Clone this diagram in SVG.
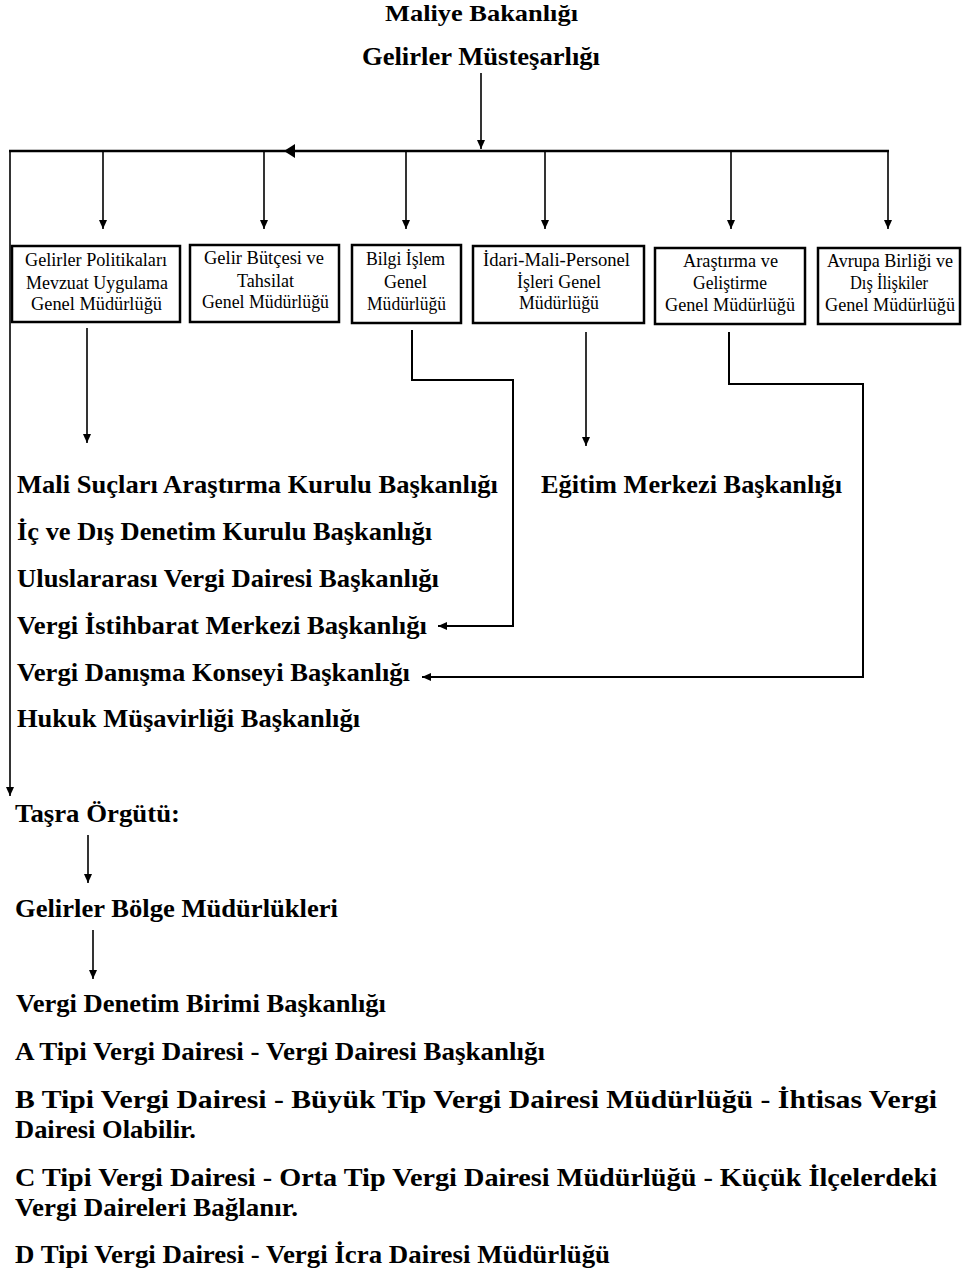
<svg xmlns="http://www.w3.org/2000/svg" width="971" height="1272" viewBox="0 0 971 1272">
<defs>
<style>
.bg{fill:#fff}
.box{fill:#fff;stroke:#000;stroke-width:2.5}
.bt{font-family:"Liberation Serif","Times New Roman",serif;font-size:19px;fill:#000}
.hb{font-family:"Liberation Serif","Times New Roman",serif;font-size:26px;font-weight:bold;fill:#000}
.tb{font-family:"Liberation Serif","Times New Roman",serif;font-size:25px;font-weight:bold;fill:#000}
.tt{font-family:"Liberation Serif","Times New Roman",serif;font-size:23px;font-weight:bold;fill:#000}
.ln{fill:none;stroke:#000;stroke-width:1.6}
.thick{fill:none;stroke:#000;stroke-width:2.6}
.el{fill:none;stroke:#000;stroke-width:2}
</style>
<marker id="ah" markerWidth="10" markerHeight="10" refX="9" refY="5" orient="auto" markerUnits="userSpaceOnUse">
<path d="M0,1 L9,5 L0,9 Z" fill="#000"/>
</marker>
</defs>
<rect class="bg" x="0" y="0" width="971" height="1272"/>

<g id="title">
<text class="tt" x="385" y="21" textLength="193" lengthAdjust="spacingAndGlyphs">Maliye Bakanlığı</text>
<text class="tb" x="362" y="65" textLength="238" lengthAdjust="spacingAndGlyphs">Gelirler Müsteşarlığı</text>
</g>

<g id="connectors">
<line class="ln" x1="481" y1="73" x2="481" y2="149" marker-end="url(#ah)"/>
<line class="thick" x1="9" y1="151" x2="889" y2="151"/>
<path d="M284,151 L295,144 L295,158 Z" fill="#000"/>
<line class="ln" x1="10" y1="150" x2="10" y2="796" marker-end="url(#ah)"/>
<line class="ln" x1="103" y1="151" x2="103" y2="229" marker-end="url(#ah)"/>
<line class="ln" x1="264" y1="151" x2="264" y2="229" marker-end="url(#ah)"/>
<line class="ln" x1="406" y1="151" x2="406" y2="229" marker-end="url(#ah)"/>
<line class="ln" x1="545" y1="151" x2="545" y2="229" marker-end="url(#ah)"/>
<line class="ln" x1="731" y1="151" x2="731" y2="229" marker-end="url(#ah)"/>
<line class="ln" x1="888" y1="151" x2="888" y2="229" marker-end="url(#ah)"/>
<line class="ln" x1="87" y1="328" x2="87" y2="443" marker-end="url(#ah)"/>
<line class="ln" x1="586" y1="332" x2="586" y2="446" marker-end="url(#ah)"/>
<path class="el" d="M412,330 V380 H513 V626 H438" marker-end="url(#ah)"/>
<path class="el" d="M729,332 V384 H863 V677 H422" marker-end="url(#ah)"/>
<line class="ln" x1="88" y1="835" x2="88" y2="883" marker-end="url(#ah)"/>
<line class="ln" x1="93" y1="930" x2="93" y2="979" marker-end="url(#ah)"/>
</g>

<g id="n1">
<rect class="box" x="12" y="246" width="168" height="76"/>
<text class="bt" x="25" y="266" textLength="142" lengthAdjust="spacingAndGlyphs">Gelirler Politikaları</text>
<text class="bt" x="26" y="289" textLength="142" lengthAdjust="spacingAndGlyphs">Mevzuat Uygulama</text>
<text class="bt" x="31" y="310" textLength="131" lengthAdjust="spacingAndGlyphs">Genel Müdürlüğü</text>
</g>
<g id="n2">
<rect class="box" x="190" y="245" width="149" height="77"/>
<text class="bt" x="204" y="264" textLength="120" lengthAdjust="spacingAndGlyphs">Gelir Bütçesi ve</text>
<text class="bt" x="237" y="287" textLength="57" lengthAdjust="spacingAndGlyphs">Tahsilat</text>
<text class="bt" x="202" y="308" textLength="127" lengthAdjust="spacingAndGlyphs">Genel Müdürlüğü</text>
</g>
<g id="n3">
<rect class="box" x="352" y="245" width="109" height="78"/>
<text class="bt" x="366" y="265" textLength="79" lengthAdjust="spacingAndGlyphs">Bilgi İşlem</text>
<text class="bt" x="384" y="288" textLength="43" lengthAdjust="spacingAndGlyphs">Genel</text>
<text class="bt" x="367" y="310" textLength="79" lengthAdjust="spacingAndGlyphs">Müdürlüğü</text>
</g>
<g id="n4">
<rect class="box" x="473" y="246" width="171" height="77"/>
<text class="bt" x="483" y="266" textLength="147" lengthAdjust="spacingAndGlyphs">İdari-Mali-Personel</text>
<text class="bt" x="517" y="288" textLength="84" lengthAdjust="spacingAndGlyphs">İşleri Genel</text>
<text class="bt" x="519" y="309" textLength="80" lengthAdjust="spacingAndGlyphs">Müdürlüğü</text>
</g>
<g id="n5">
<rect class="box" x="655" y="248" width="150" height="76"/>
<text class="bt" x="683" y="267" textLength="95" lengthAdjust="spacingAndGlyphs">Araştırma ve</text>
<text class="bt" x="693" y="289" textLength="74" lengthAdjust="spacingAndGlyphs">Geliştirme</text>
<text class="bt" x="665" y="311" textLength="130" lengthAdjust="spacingAndGlyphs">Genel Müdürlüğü</text>
</g>
<g id="n6">
<rect class="box" x="818" y="248" width="142" height="76"/>
<text class="bt" x="827" y="267" textLength="126" lengthAdjust="spacingAndGlyphs">Avrupa Birliği ve</text>
<text class="bt" x="850" y="289" textLength="78" lengthAdjust="spacingAndGlyphs">Dış İlişkiler</text>
<text class="bt" x="825" y="311" textLength="130" lengthAdjust="spacingAndGlyphs">Genel Müdürlüğü</text>
</g>

<g id="central-units">
<text class="hb" x="17" y="493" textLength="481" lengthAdjust="spacingAndGlyphs">Mali Suçları Araştırma Kurulu Başkanlığı</text>
<text class="hb" x="17" y="540" textLength="415" lengthAdjust="spacingAndGlyphs">İç ve Dış Denetim Kurulu Başkanlığı</text>
<text class="hb" x="17" y="587" textLength="422" lengthAdjust="spacingAndGlyphs">Uluslararası Vergi Dairesi Başkanlığı</text>
<text class="hb" x="17" y="634" textLength="410" lengthAdjust="spacingAndGlyphs">Vergi İstihbarat Merkezi Başkanlığı</text>
<text class="hb" x="17" y="681" textLength="393" lengthAdjust="spacingAndGlyphs">Vergi Danışma Konseyi Başkanlığı</text>
<text class="hb" x="17" y="727" textLength="343" lengthAdjust="spacingAndGlyphs">Hukuk Müşavirliği Başkanlığı</text>
</g>
<g id="egitim">
<text class="hb" x="541" y="493" textLength="301" lengthAdjust="spacingAndGlyphs">Eğitim Merkezi Başkanlığı</text>
</g>

<g id="tasra">
<text class="hb" x="15" y="822" textLength="165" lengthAdjust="spacingAndGlyphs">Taşra Örgütü:</text>
</g>
<g id="bolge">
<text class="hb" x="15" y="917" textLength="323" lengthAdjust="spacingAndGlyphs">Gelirler Bölge Müdürlükleri</text>
</g>
<g id="denetim">
<text class="hb" x="16" y="1012" textLength="370" lengthAdjust="spacingAndGlyphs">Vergi Denetim Birimi Başkanlığı</text>
</g>
<g id="vergi-daireleri">
<text class="tb" x="15" y="1060" textLength="530" lengthAdjust="spacingAndGlyphs">A Tipi Vergi Dairesi - Vergi Dairesi Başkanlığı</text>
<text class="tb" x="15" y="1108" textLength="922" lengthAdjust="spacingAndGlyphs">B Tipi Vergi Dairesi - Büyük Tip Vergi Dairesi Müdürlüğü - İhtisas Vergi</text>
<text class="tb" x="15" y="1138" textLength="181" lengthAdjust="spacingAndGlyphs">Dairesi Olabilir.</text>
<text class="tb" x="15" y="1186" textLength="922" lengthAdjust="spacingAndGlyphs">C Tipi Vergi Dairesi - Orta Tip Vergi Dairesi Müdürlüğü - Küçük İlçelerdeki</text>
<text class="tb" x="15" y="1216" textLength="283" lengthAdjust="spacingAndGlyphs">Vergi Daireleri Bağlanır.</text>
<text class="tb" x="15" y="1263" textLength="595" lengthAdjust="spacingAndGlyphs">D Tipi Vergi Dairesi - Vergi İcra Dairesi Müdürlüğü</text>
</g>
</svg>
